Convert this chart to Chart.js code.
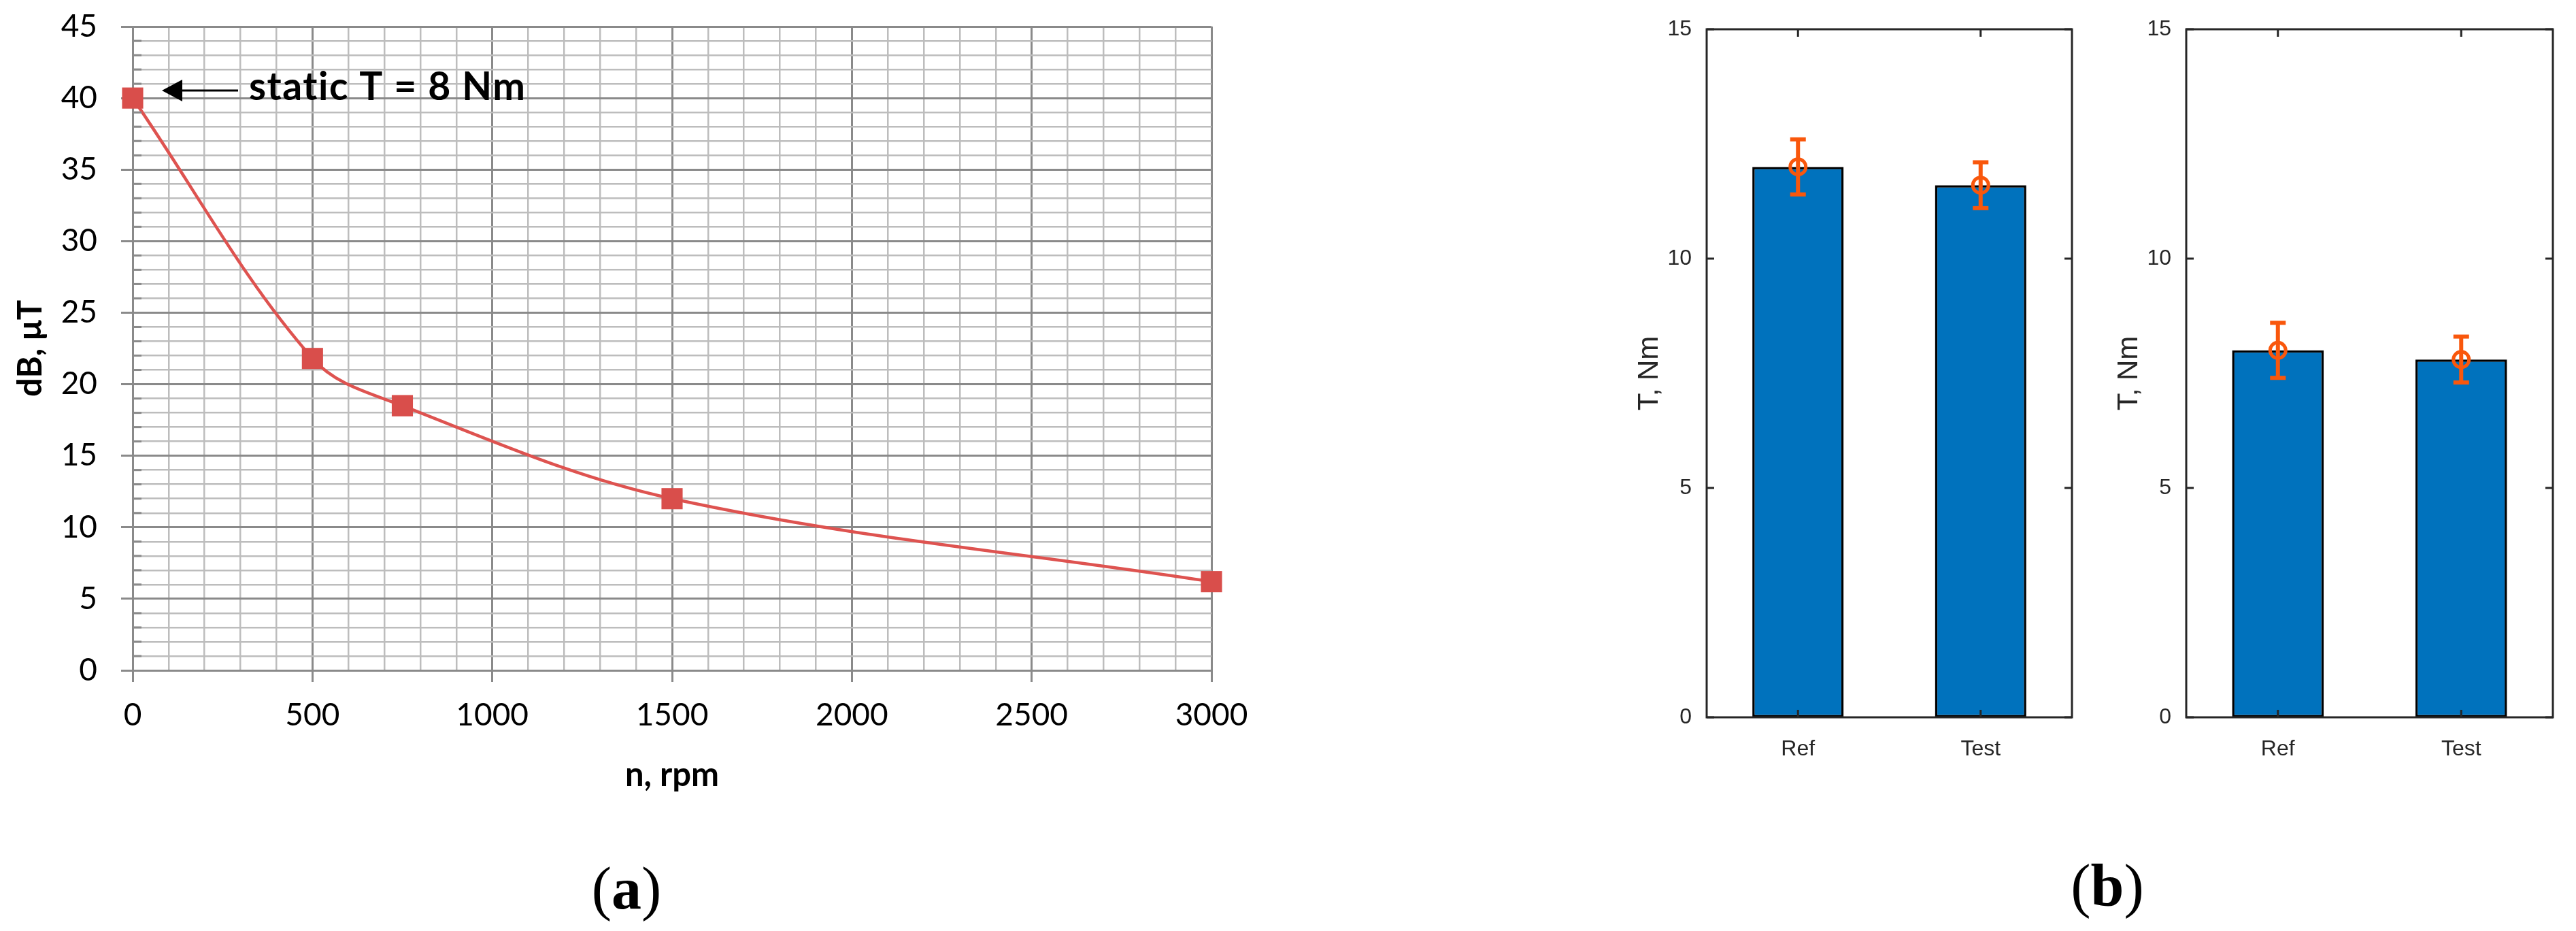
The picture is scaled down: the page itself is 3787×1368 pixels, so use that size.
<!DOCTYPE html>
<html>
<head>
<meta charset="utf-8">
<script src="https://cdn.jsdelivr.net/npm/chart.js@4.4.1/dist/chart.umd.min.js"></script>
<style>
html,body{margin:0;padding:0;background:#fff;width:3787px;height:1368px;overflow:hidden;position:relative}
canvas{position:absolute}
.cap{position:absolute;font-family:"Liberation Serif",serif;font-size:88px;color:#000;transform:translate(-50%,-50%);white-space:nowrap;line-height:1}
</style>
</head>
<body>
<canvas id="cA" width="1850" height="1169" style="left:0px;top:0px"></canvas>
<canvas id="cB1" width="686" height="1150" style="left:2380px;top:0px"></canvas>
<canvas id="cB2" width="688" height="1150" style="left:3085px;top:0px"></canvas>
<div class="cap" style="left:921px;top:1306px">(<b>a</b>)</div>
<div class="cap" style="left:3098px;top:1302px">(<b>b</b>)</div>
<script>
// ---- data (a) ----
const speedRpm = [0, 500, 750, 1500, 3000];
const deltaB = [40, 21.8, 18.5, 12, 6.2];
const xTickValuesA = [0, 500, 1000, 1500, 2000, 2500, 3000];
const xTickLabelsA = ['0', '500', '1000', '1500', '2000', '2500', '3000'];
const yTickValuesA = [0, 5, 10, 15, 20, 25, 30, 35, 40, 45];
const yTickLabelsA = ['0', '5', '10', '15', '20', '25', '30', '35', '40', '45'];
const xTitleA = 'n, rpm';
const yTitleA = 'dB, μT';
const annotationText = 'static T = 8 Nm';

// ---- data (b) ----
const categories = ['Ref', 'Test'];
const torqueHigh = [12.0, 11.6];
const torqueHighErr = [0.6, 0.5];
const torqueLow = [8.0, 7.8];
const torqueLowErr = [0.6, 0.5];
const panelTickValues = [0, 5, 10, 15];
const yTitleB = 'T, Nm';

// ---- styles ----
const MAJOR = '#8A8A8A', MINOR = '#BDBDBD';
const RED_LINE = '#DE5350', RED_PT = '#D94E4B';
const BLUE = '#0072BD', ORANGE = '#F9570C', DARK = '#262626';

function findIdx(arr, v) {
  for (let i = 0; i < arr.length; i++) if (Math.abs(arr[i] - v) < 1e-6) return i;
  return -1;
}
function zeroPad(s) { s.paddingTop = 0; s.paddingBottom = 0; s.paddingLeft = 0; s.paddingRight = 0; }

const excelExtras = {
  id: 'excelExtras',
  afterDatasetsDraw(chart) {
    const ctx = chart.ctx, ys = chart.scales.y, ca = chart.chartArea;
    ctx.save();
    ctx.strokeStyle = MAJOR; ctx.lineWidth = 3;
    ys.ticks.forEach(t => {
      if (findIdx(yTickValuesA, t.value) < 0) {
        const py = ys.getPixelForValue(t.value);
        ctx.beginPath(); ctx.moveTo(ca.left, py); ctx.lineTo(ca.left + 13, py); ctx.stroke();
      }
    });
    ctx.restore();
  },
  afterDraw(chart) {
    const ctx = chart.ctx, xs = chart.scales.x, ys = chart.scales.y;
    const px = xs.getPixelForValue(speedRpm[0]);
    const py = ys.getPixelForValue(deltaB[0]);
    ctx.save();
    const ay = py - 11;
    ctx.strokeStyle = '#000'; ctx.fillStyle = '#000'; ctx.lineWidth = 3;
    ctx.beginPath(); ctx.moveTo(px + 155, ay); ctx.lineTo(px + 66, ay); ctx.stroke();
    ctx.beginPath(); ctx.moveTo(px + 43, ay); ctx.lineTo(px + 73, ay - 16); ctx.lineTo(px + 73, ay + 16); ctx.closePath(); ctx.fill();
    ctx.font = 'bold 57px Lato';
    try { ctx.letterSpacing = '1.5px'; } catch (e) {}
    ctx.textBaseline = 'alphabetic'; ctx.textAlign = 'left';
    ctx.fillText(annotationText, px + 171, py + 3);
    ctx.restore();
  }
};

new Chart(document.getElementById('cA'), {
  type: 'scatter',
  data: {
    datasets: [{
      data: speedRpm.map((x, i) => ({ x: x, y: deltaB[i] })),
      showLine: true,
      borderColor: RED_LINE,
      borderWidth: 4.5,
      tension: 0.35,
      pointStyle: 'rect',
      pointRadius: 22,
      pointHoverRadius: 22,
      pointBackgroundColor: RED_PT,
      pointBorderColor: RED_PT,
      pointBorderWidth: 0,
      clip: false
    }]
  },
  options: {
    responsive: false, animation: false, events: [],
    layout: { padding: { left: 0, top: 39, right: 69, bottom: 0 } },
    plugins: { legend: { display: false }, tooltip: { enabled: false } },
    scales: {
      x: {
        type: 'linear', min: 0, max: 3000,
        afterFit(s) { s.height = 184; zeroPad(s); },
        ticks: {
          stepSize: 100, autoSkip: false, maxRotation: 0, maxTicksLimit: 1000, padding: 22,
          font: { family: 'Lato', size: 46 }, color: '#000',
          callback: v => { const i = findIdx(xTickValuesA, v); return i >= 0 ? xTickLabelsA[i] : ''; }
        },
        grid: {
          color: c => (c.tick && findIdx(xTickValuesA, c.tick.value) >= 0) ? MAJOR : MINOR,
          lineWidth: c => (c.tick && findIdx(xTickValuesA, c.tick.value) >= 0) ? 3 : 2.5,
          tickLength: 17,
          tickColor: c => (c.tick && findIdx(xTickValuesA, c.tick.value) >= 0) ? MAJOR : 'rgba(0,0,0,0)',
          tickWidth: 3
        },
        border: { color: MAJOR, width: 3 },
        title: { display: true, text: xTitleA, font: { family: 'Lato', size: 49, weight: 'bold' }, color: '#000', padding: { top: 0, bottom: 0 } }
      },
      y: {
        type: 'linear', min: 0, max: 45,
        afterFit(s) { s.width = 195; zeroPad(s); },
        ticks: {
          stepSize: 1, autoSkip: false, maxTicksLimit: 1000, padding: 35,
          font: { family: 'Lato', size: 46 }, color: '#000',
          callback: v => { const i = findIdx(yTickValuesA, v); return i >= 0 ? yTickLabelsA[i] : ''; }
        },
        grid: {
          color: c => (c.tick && findIdx(yTickValuesA, c.tick.value) >= 0) ? MAJOR : MINOR,
          lineWidth: c => (c.tick && findIdx(yTickValuesA, c.tick.value) >= 0) ? 3 : 2.5,
          tickLength: 17,
          tickColor: c => (c.tick && findIdx(yTickValuesA, c.tick.value) >= 0) ? MAJOR : 'rgba(0,0,0,0)',
          tickWidth: 3
        },
        border: { color: MAJOR, width: 3 },
        title: { display: true, text: yTitleA, font: { family: 'Lato', size: 49, weight: 'bold' }, color: '#000', padding: { top: 16, bottom: 0 } }
      }
    }
  },
  plugins: [excelExtras]
});

function makePanel(id, means, errs) {
  const matlabBox = {
    id: 'matlabBox',
    afterDatasetsDraw(chart) {
      const ctx = chart.ctx, xs = chart.scales.x, ys = chart.scales.y;
      ctx.save();
      ctx.strokeStyle = ORANGE; ctx.lineWidth = 6; ctx.lineCap = 'butt';
      means.forEach((m, i) => {
        const cx = xs.getPixelForValue(i);
        const yt = ys.getPixelForValue(m + errs[i]);
        const yb = ys.getPixelForValue(m - errs[i]);
        ctx.beginPath(); ctx.moveTo(cx, yt); ctx.lineTo(cx, yb); ctx.stroke();
        ctx.beginPath(); ctx.moveTo(cx - 11.5, yt); ctx.lineTo(cx + 11.5, yt); ctx.stroke();
        ctx.beginPath(); ctx.moveTo(cx - 11.5, yb); ctx.lineTo(cx + 11.5, yb); ctx.stroke();
      });
      ctx.restore();
    },
    afterDraw(chart) {
      const ctx = chart.ctx, ca = chart.chartArea, xs = chart.scales.x, ys = chart.scales.y;
      ctx.save();
      ctx.strokeStyle = DARK; ctx.lineWidth = 3;
      ctx.strokeRect(ca.left, ca.top, ca.right - ca.left, ca.bottom - ca.top);
      const L = 11;
      panelTickValues.forEach(v => {
        const py = ys.getPixelForValue(v);
        ctx.beginPath(); ctx.moveTo(ca.left, py); ctx.lineTo(ca.left + L, py); ctx.stroke();
        ctx.beginPath(); ctx.moveTo(ca.right, py); ctx.lineTo(ca.right - L, py); ctx.stroke();
      });
      categories.forEach((c, i) => {
        const px = xs.getPixelForValue(i);
        ctx.beginPath(); ctx.moveTo(px, ca.top); ctx.lineTo(px, ca.top + L); ctx.stroke();
        ctx.beginPath(); ctx.moveTo(px, ca.bottom); ctx.lineTo(px, ca.bottom - L); ctx.stroke();
      });
      ctx.restore();
    }
  };
  new Chart(document.getElementById(id), {
    type: 'bar',
    data: {
      labels: categories,
      datasets: [
        { type: 'bar', data: means, backgroundColor: BLUE, borderColor: '#000', borderWidth: 3.5,
          borderSkipped: false, barPercentage: 0.5, categoryPercentage: 1, order: 2 },
        { type: 'line', data: means, showLine: false, pointStyle: 'circle', pointRadius: 11.5, pointHoverRadius: 11.5,
          pointBorderWidth: 5, pointBorderColor: ORANGE, pointBackgroundColor: 'rgba(0,0,0,0)', order: 1, clip: false }
      ]
    },
    options: {
      responsive: false, animation: false, events: [],
      layout: { padding: { left: 0, top: 43, right: 20, bottom: 0 } },
      plugins: { legend: { display: false }, tooltip: { enabled: false } },
      scales: {
        x: {
          afterFit(s) { s.height = 96; zeroPad(s); },
          grid: { display: false }, border: { display: false },
          ticks: { padding: 20, font: { family: 'Liberation Sans', size: 32 }, color: DARK }
        },
        y: {
          min: 0, max: 15,
          afterFit(s) { s.width = 129; zeroPad(s); },
          afterBuildTicks(s) { s.ticks = panelTickValues.map(v => ({ value: v })); },
          ticks: { padding: 14, font: { family: 'Liberation Sans', size: 32 }, color: DARK },
          grid: { display: false }, border: { display: false },
          title: { display: true, text: yTitleB, font: { family: 'Liberation Sans', size: 42 }, color: DARK, padding: { top: 20, bottom: 0 } }
        }
      }
    },
    plugins: [matlabBox]
  });
}

makePanel('cB1', torqueHigh, torqueHighErr);
makePanel('cB2', torqueLow, torqueLowErr);
</script>
</body>
</html>
